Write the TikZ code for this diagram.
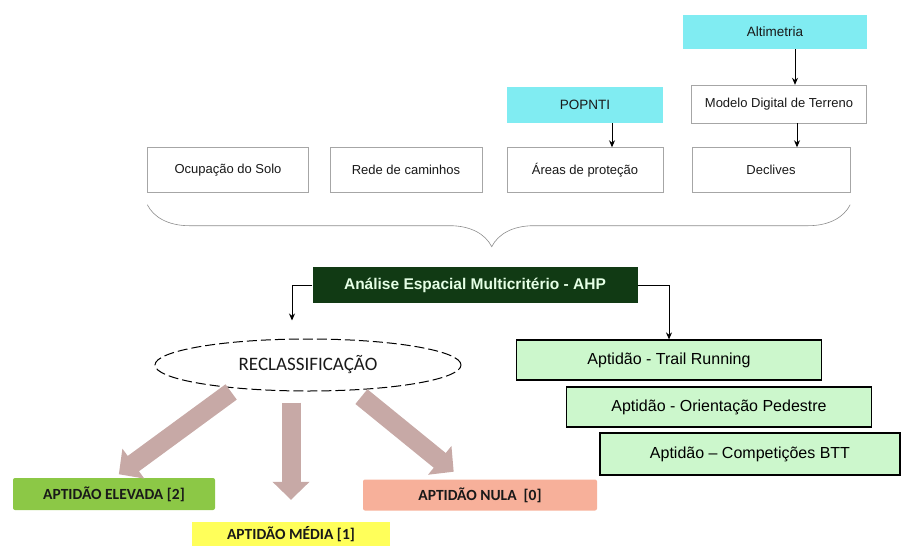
\documentclass[tikz,border=0pt]{standalone}
\usepackage{fontspec}
\setmainfont{Liberation Sans}
\newfontfamily\calibri{Carlito}
\usepackage{tikz}
\usetikzlibrary{calc}
\usetikzlibrary{positioning}
\usetikzlibrary{arrows.meta}
\usetikzlibrary{shapes.geometric}
\usetikzlibrary{decorations.pathreplacing}

\definecolor{cyanbox}{RGB}{128,236,242}
\definecolor{palegreen}{RGB}{204,247,204}
\definecolor{darkgreen}{RGB}{17,58,20}
\definecolor{elevgreen}{RGB}{140,200,70}
\definecolor{nulared}{RGB}{247,176,154}
\definecolor{mediayellow}{RGB}{255,255,90}
\definecolor{blockarrow}{RGB}{199,169,166}

\begin{document}
\begin{tikzpicture}[x=1pt,y=-1pt]
\tikzstyle{source}=[rectangle,fill=cyanbox,minimum height=34pt,text=black!90,font=\fontsize{13.5}{15}\selectfont]
\tikzstyle{layer}=[rectangle,draw=black!35,line width=0.4pt,fill=white,minimum height=45pt,text=black!90,font=\fontsize{13}{15}\selectfont]
\tikzstyle{suit}=[rectangle,draw=black,line width=1.2pt,fill=palegreen,minimum width=305pt,minimum height=40pt,font=\fontsize{16}{18}\selectfont]
\tikzstyle{class}=[rectangle,rounded corners=2pt,minimum height=32pt,text=black!90,font=\calibri\bfseries\fontsize{15.5}{17}\selectfont]
\tikzstyle{flow}=[-{Stealth[length=7pt,width=6pt]},line width=1pt]
\tikzstyle{bigarrow}=[line width=19pt,draw=blockarrow,-{Triangle[length=18pt,width=36pt]}]
\useasboundingbox (0,0) rectangle (902,546);

% sources and layers
\node[source,minimum width=184pt] at(775, 32) (alt) {Altimetria};
\node[layer,minimum width=175pt,minimum height=38pt] at(779, 104) (mdt) {Modelo Digital de Terreno};
\node[source,minimum width=156pt,minimum height=36pt] at(585, 105) (popnti) {POPNTI};
\node[layer,minimum width=161pt] at(228, 170) (ocup) {Ocupação do Solo};
\node[layer,minimum width=152pt] at(406, 170) (rede) {Rede de caminhos};
\node[layer,minimum width=156pt] at(585, 170) (areas) {Áreas de proteção};
\node[layer,minimum width=158pt] at(771, 170) (decl) {Declives};

\draw[flow] ([xshift=20pt]alt.south) -- ([xshift=20pt]alt.south |- mdt.north);
\draw[flow] ([xshift=18pt]mdt.south) -- ([xshift=18pt]mdt.south |- decl.north);
\draw[flow] ([xshift=27pt]popnti.south) -- ([xshift=27pt]popnti.south |- areas.north);
\draw[black!45,line width=0.6pt,decorate,decoration={brace,amplitude=42pt,aspect=0.49,mirror}]
  ([yshift=-12pt]ocup.south west) -- ([yshift=-12pt]decl.south east);

% analysis
\node[rectangle,fill=darkgreen,text=white!90!green,minimum width=325pt,minimum height=36pt,
      font=\bfseries\fontsize{15.5}{17}\selectfont] at(475, 285) (ahp) {Análise Espacial Multicritério - AHP};
\node[ellipse,draw,line width=1pt,dash pattern=on 10pt off 4pt,minimum width=306pt,minimum height=52pt,
      text=black!90,font=\calibri\fontsize{19}{21}\selectfont] at(308, 365) (recl) {RECLASSIFICAÇÃO};

% results
\node[suit] at(669, 360) (trail) {Aptidão - Trail Running};
\node[suit] at(719, 407) (orient) {Aptidão - Orientação Pedestre};
\node[suit,minimum width=300pt,minimum height=42pt] at(750, 454) (btt) {Aptidão – Competições BTT};

\draw[flow] (ahp.west) -| ([xshift=-16pt,yshift=18pt]recl.north);
\draw[flow] (ahp.east) -| (trail.north);

\node[class,fill=elevgreen,minimum width=202pt] at(114, 494) (elev) {APTIDÃO ELEVADA [2]};
\node[class,fill=nulared,minimum width=234pt,minimum height=31pt] at(480, 495) (nula) {APTIDÃO NULA~ [0]};
\node[class,fill=mediayellow,minimum width=198pt,minimum height=24pt,rounded corners=0pt] at(291, 534) (medi) {APTIDÃO MÉDIA [1]};

\draw[bigarrow,shorten <=6pt,shorten >=6pt] (recl.198) -- (elev.north);
\draw[bigarrow,shorten <=11pt,shorten >=22pt] (recl.south -| medi.north) -- (medi.north);
\draw[bigarrow,shorten <=10pt,shorten >=12pt] (recl.-29) -- ([xshift=-17pt]nula.north);
\end{tikzpicture}
\end{document}
